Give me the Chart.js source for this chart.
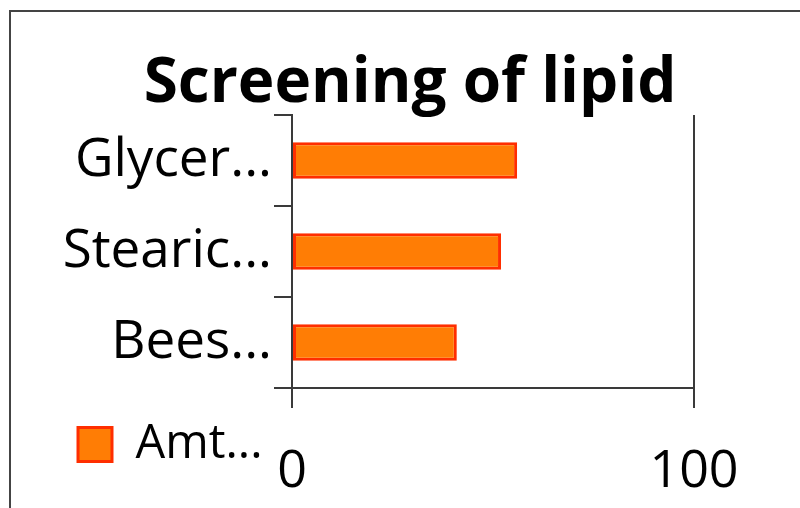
<!DOCTYPE html>
<html>
<head>
<meta charset="utf-8">
<script src="https://cdn.jsdelivr.net/npm/chart.js@4/dist/chart.umd.min.js"></script>
<style>
  html, body { margin: 0; padding: 0; background: #fff; }
  #wrap { position: relative; width: 800px; height: 508px; }
</style>
</head>
<body>
<div id="wrap"><canvas id="c" width="800" height="508"></canvas></div>
<script>
const titleText = 'Screening of lipid';
const categories = ['Glycer...', 'Stearic...', 'Bees...'];
const seriesLabel = 'Amt...';
const amounts = [56, 52, 41];
const xTickValues = [0, 100];

const FONT = '"Open Sans", Lato, sans-serif';
const AXIS = '#3a3a3a';

const framePlugin = {
  id: 'frame',
  beforeDraw(chart) {
    const ctx = chart.ctx;
    ctx.save();
    ctx.fillStyle = '#fff';
    ctx.fillRect(0, 0, chart.width, chart.height);
    ctx.strokeStyle = '#444';
    ctx.lineWidth = 2;
    ctx.strokeRect(10, 11, 1000, 1000);
    ctx.restore();
  }
};

const placeBlocks = {
  id: 'placeBlocks',
  afterLayout(chart) {
    const lg = chart.legend;
    if (lg) {
      const w = lg.width, h = lg.height;
      lg.left = 68; lg.top = 411;
      lg.right = lg.left + w; lg.bottom = lg.top + h;
    }
    const t = chart.titleBlock;
    if (t) {
      t.left = 20; t.right = 800; t.width = 780;
    }
  }
};

new Chart(document.getElementById('c'), {
  type: 'bar',
  data: {
    labels: categories,
    datasets: [{
      label: seriesLabel,
      data: amounts,
      backgroundColor: '#FF7D05',
      borderColor: '#FF2E00',
      borderWidth: 3,
      borderSkipped: false,
      barPercentage: 0.4,
      categoryPercentage: 1.0
    }]
  },
  options: {
    indexAxis: 'y',
    responsive: false,
    animation: false,
    devicePixelRatio: 1,
    layout: { padding: { left: 12, right: 106, top: 0, bottom: 0 } },
    plugins: {
      title: {
        display: true,
        text: titleText,
        color: '#000',
        font: { family: FONT, size: 62, weight: 'bold', lineHeight: 1.0 },
        padding: { top: 53, bottom: 0 }
      },
      legend: {
        display: true,
        position: 'chartArea',
        align: 'start',
        labels: {
          color: '#000',
          font: { family: FONT, size: 47 },
          boxWidth: 34,
          boxHeight: 34,
          padding: 10
        }
      },
      tooltip: { enabled: false }
    },
    scales: {
      x: {
        type: 'linear',
        min: 0,
        max: 100,
        afterBuildTicks(scale) { scale.ticks = xTickValues.map(v => ({ value: v })); },
        afterFit(scale) { scale.height = 120; },
        ticks: { color: '#000', font: { family: FONT, size: 52 }, padding: 33 },
        grid: { color: AXIS, lineWidth: 2, drawOnChartArea: true, drawTicks: true, tickLength: 20 },
        border: { display: true, color: AXIS, width: 2 }
      },
      y: {
        type: 'category',
        afterFit(scale) { scale.width = 292 - 12; },
        ticks: { color: '#000', font: { family: FONT, size: 53 }, padding: 2 },
        grid: { offset: true, color: AXIS, lineWidth: 2, drawOnChartArea: false, drawTicks: true, tickLength: 18 },
        border: { display: true, color: AXIS, width: 2 }
      }
    }
  },
  plugins: [framePlugin, placeBlocks]
});
</script>
</body>
</html>
